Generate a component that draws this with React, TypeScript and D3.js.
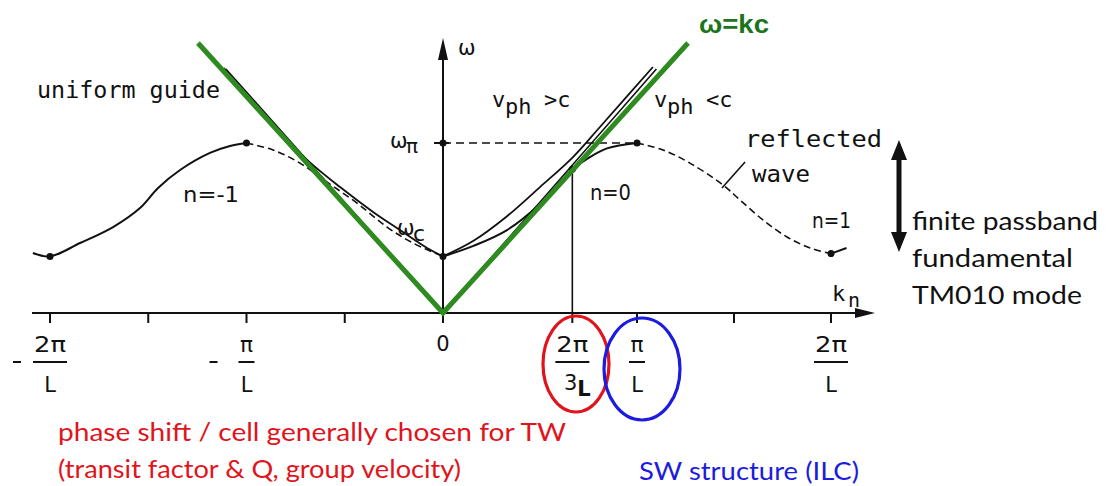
import React from 'react';
import * as d3 from 'd3';

// Dispersion diagram of a periodic (disk-loaded) guide.
// k is measured in units of π/L, ω in units of c·π/L.

const OMEGA_C = 0.262;
const OMEGA_PI = 0.787;
const OMEGA_TW = 0.665; // fundamental branch at k = 2π/3L

const tickValues = [-2, -1.5, -1, -0.5, 0, 2 / 3, 1, 1.5, 2];

// n = -1 space harmonic (solid part)
const branchMinus1: [number, number][] = [
  [-2.087, 0.278], [-2.0, OMEGA_C], [-1.847, 0.324], [-1.679, 0.398], [-1.542, 0.486],
  [-1.45, 0.579], [-1.338, 0.662], [-1.186, 0.741], [-1.084, 0.773], [-1.0, OMEGA_PI],
];
// reflected wave between -π/L and 0
const reflectedLeft: [number, number][] = [
  [-1.0, OMEGA_PI], [-0.865, 0.755], [-0.728, 0.694], [-0.59, 0.606], [-0.438, 0.509],
  [-0.285, 0.398], [-0.153, 0.324], [0, OMEGA_C],
];
// n = 0 fundamental branch
const branch0: [number, number][] = [
  [0, OMEGA_C], [0.16, 0.312], [0.33, 0.384], [0.5, 0.505], [2 / 3, OMEGA_TW],
  [0.742, 0.713], [0.845, 0.762], [1.0, OMEGA_PI],
];
// reflected wave between π/L and 2π/L
const reflectedRight: [number, number][] = [
  [1.0, OMEGA_PI], [1.134, 0.755], [1.273, 0.694], [1.443, 0.593], [1.531, 0.523],
  [1.649, 0.431], [1.773, 0.352], [1.892, 0.301], [2.0, 0.275],
];
// start of the n = 1 branch
const branch1: [number, number][] = [[2.0, 0.275], [2.08, 0.301]];

// uniform guide (hyperbola)
const uniformLeft: [number, number][] = [
  [-1.115, 1.134], [-0.893, 0.894], [-0.69, 0.708], [-0.524, 0.583], [-0.356, 0.468],
  [-0.219, 0.384], [-0.081, 0.301], [0, OMEGA_C],
];
const uniformRight: [number, number][] = [
  [0, OMEGA_C], [0.155, 0.333], [0.33, 0.448], [0.5, 0.583],
  [0.67, 0.722], [0.809, 0.861], [1.082, 1.139],
];

// light line ω = kc, inked and highlighted
const lightLineInk: [number, number][] = [[-1.105, 1.13], [0, 0], [1.1, 1.13]];
const lightLineGreen: [number, number][] = [[-1.247, 1.25], [0, 0], [1.263, 1.25]];

const dots: [number, number][] = [
  [-2, OMEGA_C], [-1, OMEGA_PI], [0, OMEGA_C], [0, OMEGA_PI], [1, OMEGA_PI], [2, 0.275], [2 / 3, OMEGA_TW],
];

const GREEN = '#2e8b1f';
const RED = '#e0141c';
const BLUE = '#1c1ce0';
const INK = '#111';
const MONO = "'DejaVu Sans Mono', monospace";
const SKETCH = "'DejaVu Sans', sans-serif";
const NOTE = "Lato, 'Open Sans', sans-serif";

export default function App() {
  const x = d3.scaleLinear().domain([-2, 0, 2]).range([50, 443, 831]);
  const y = d3.scaleLinear().domain([0, 1.25]).range([313, 43]);
  const smooth = d3.line<[number, number]>()
    .x((d) => x(d[0]))
    .y((d) => y(d[1]))
    .curve(d3.curveCatmullRom.alpha(0.5));
  const straight = d3.line<[number, number]>()
    .x((d) => x(d[0]))
    .y((d) => y(d[1]));

  const x0 = x(0);
  const y0 = y(0);

  const fraction = (k: number, num: string, den: string, minus: boolean, key: string) => {
    const cx = x(k);
    const wide = num.length > 1;
    return (
      <g key={key} fontFamily={SKETCH} fill={INK}>
        {minus && <line x1={cx - 37} x2={cx - 29} y1={362} y2={362} stroke={INK} strokeWidth={2} />}
        <text x={cx} y={352} fontSize={21} textAnchor="middle" textLength={wide ? 32 : 13} lengthAdjust="spacingAndGlyphs">{num}</text>
        <line x1={cx - (wide ? 17 : 8)} x2={cx + (wide ? 17 : 8)} y1={362} y2={362} stroke={INK} strokeWidth={2} />
        <text x={cx} y={392} fontSize={21} textAnchor="middle">{den}</text>
      </g>
    );
  };

  return (
    <svg width={1108} height={486} style={{ position: 'absolute', left: 0, top: 0, background: '#fff' }}>
      {/* axes */}
      <line x1={32} x2={858} y1={y0} y2={y0} stroke={INK} strokeWidth={2} />
      <polygon points={`875,${y0} 855,${y0 - 5} 855,${y0 + 5}`} fill={INK} />
      <line x1={x0} x2={x0} y1={y0 + 10} y2={56} stroke={INK} strokeWidth={2} />
      <polygon points={`${x0},38 ${x0 - 5},60 ${x0 + 5},60`} fill={INK} />
      {tickValues.map((t) => (
        <line key={t} x1={x(t)} x2={x(t)} y1={y0} y2={y0 + 10} stroke={INK} strokeWidth={2} />
      ))}
      <line x1={x0 - 9} x2={x0 + 6} y1={y(OMEGA_PI)} y2={y(OMEGA_PI)} stroke={INK} strokeWidth={2} />

      {/* ω_π level and 2π/3L marker */}
      <line x1={x0} x2={x(1)} y1={y(OMEGA_PI)} y2={y(OMEGA_PI)} stroke={INK} strokeWidth={1.6} strokeDasharray="8,5" />
      <line x1={x(2 / 3)} x2={x(2 / 3)} y1={y0} y2={y(OMEGA_TW)} stroke={INK} strokeWidth={1.6} />

      {/* light line in ink */}
      <path d={straight(lightLineInk) || ''} fill="none" stroke={INK} strokeWidth={1.6} />

      {/* uniform guide */}
      <path d={smooth(uniformLeft) || ''} fill="none" stroke={INK} strokeWidth={1.8} />
      <path d={smooth(uniformRight) || ''} fill="none" stroke={INK} strokeWidth={1.8} />

      {/* periodic structure */}
      <path d={smooth(branchMinus1) || ''} fill="none" stroke={INK} strokeWidth={2} />
      <path d={smooth(reflectedLeft) || ''} fill="none" stroke={INK} strokeWidth={1.6} strokeDasharray="7,4" />
      <path d={smooth(branch0) || ''} fill="none" stroke={INK} strokeWidth={2} />
      <path d={smooth(reflectedRight) || ''} fill="none" stroke={INK} strokeWidth={1.6} strokeDasharray="7,4" />
      <path d={smooth(branch1) || ''} fill="none" stroke={INK} strokeWidth={2} />
      {dots.map((d, i) => (
        <circle key={i} cx={x(d[0])} cy={y(d[1])} r={3.5} fill={INK} />
      ))}

      {/* reflected-wave leader */}
      <line x1={x(1.438)} y1={y(0.579)} x2={x(1.557)} y2={y(0.699)} stroke={INK} strokeWidth={1.6} />

      {/* green light line ω = kc */}
      <path d={straight(lightLineGreen) || ''} fill="none" stroke={GREEN} strokeWidth={5} strokeLinejoin="miter" />
      <text x={699} y={33} fontFamily="'Liberation Sans', Arial, sans-serif" fontWeight={700} fontSize={26} fill="#1c751c" textLength={70} lengthAdjust="spacingAndGlyphs">ω=kc</text>

      {/* sketch labels */}
      <g fontFamily={MONO} fill={INK}>
        <text x={37} y={98} fontSize={23} textLength={183} lengthAdjust="spacingAndGlyphs">uniform guide</text>
        <text x={492} y={107} fontSize={22}>v</text>
        <text x={505} y={114} fontSize={22}>ph</text>
        <text x={544} y={107} fontSize={22}>&gt;c</text>
        <text x={654} y={107} fontSize={22}>v</text>
        <text x={667} y={114} fontSize={22}>ph</text>
        <text x={706} y={107} fontSize={22}>&lt;c</text>
        <text x={745} y={147} fontSize={23} textLength={137} lengthAdjust="spacingAndGlyphs">reflected</text>
        <text x={752} y={182} fontSize={23} textLength={58} lengthAdjust="spacingAndGlyphs">wave</text>
        <text x={832} y={301} fontSize={22}>k</text>
        <text x={848} y={307} fontSize={20}>n</text>
      </g>
      <g fontFamily={SKETCH} fill={INK}>
        <text x={458} y={55} fontSize={21}>ω</text>
        <text x={390} y={148} fontSize={21}>ω</text>
        <text x={406} y={153} fontSize={20}>π</text>
        <text x={397} y={235} fontSize={21}>ω</text>
        <text x={413} y={241} fontSize={22}>c</text>
        <text x={183} y={202} fontSize={21} textLength={56} lengthAdjust="spacingAndGlyphs">n=-1</text>
        <text x={590} y={200} fontSize={21} textLength={41} lengthAdjust="spacingAndGlyphs">n=0</text>
        <text x={812} y={228} fontSize={21} textLength={39} lengthAdjust="spacingAndGlyphs">n=1</text>
        <text x={x0} y={351} fontSize={21} textAnchor="middle">0</text>
      </g>

      {/* k-axis fractions */}
      {fraction(-2, '2π', 'L', true, 'm2')}
      {fraction(-1, 'π', 'L', true, 'm1')}
      {fraction(1, 'π', 'L', false, 'p1')}
      {fraction(2, '2π', 'L', false, 'p2')}
      <g fontFamily={SKETCH} fill={INK}>
        <text x={x(2 / 3)} y={352} fontSize={21} textAnchor="middle" textLength={32} lengthAdjust="spacingAndGlyphs">2π</text>
        <line x1={x(2 / 3) - 17} x2={x(2 / 3) + 17} y1={362} y2={362} stroke={INK} strokeWidth={2} />
        <text x={x(2 / 3) + 5} y={390} fontSize={21} textAnchor="end">3</text>
        <text x={x(2 / 3) + 5} y={396} fontSize={21} fontWeight={700}>L</text>
      </g>

      {/* highlighted modes */}
      <ellipse cx={576} cy={364} rx={33} ry={48} fill="none" stroke={RED} strokeWidth={3.2} />
      <ellipse cx={642} cy={369} rx={38} ry={51} fill="none" stroke={BLUE} strokeWidth={3.2} />

      {/* passband arrow */}
      <line x1={899} x2={899} y1={156} y2={236} stroke={INK} strokeWidth={5} />
      <polygon points="899,140 891,160 907,160" fill={INK} />
      <polygon points="899,252 891,232 907,232" fill={INK} />

      {/* notes */}
      <g fontFamily={NOTE} fontSize={25}>
        <text x={912} y={230} fill={INK} textLength={186} lengthAdjust="spacingAndGlyphs">finite passband</text>
        <text x={912} y={267} fill={INK} textLength={161} lengthAdjust="spacingAndGlyphs">fundamental</text>
        <text x={912} y={304} fill={INK} textLength={170} lengthAdjust="spacingAndGlyphs">TM010 mode</text>
        <text x={58} y={441} fill={RED} textLength={508} lengthAdjust="spacingAndGlyphs">phase shift / cell generally chosen for TW</text>
        <text x={58} y={478} fill={RED} textLength={403} lengthAdjust="spacingAndGlyphs">(transit factor &amp; Q, group velocity)</text>
        <text x={639} y={480} fill={BLUE} textLength={220} lengthAdjust="spacingAndGlyphs">SW structure (ILC)</text>
      </g>
    </svg>
  );
}
